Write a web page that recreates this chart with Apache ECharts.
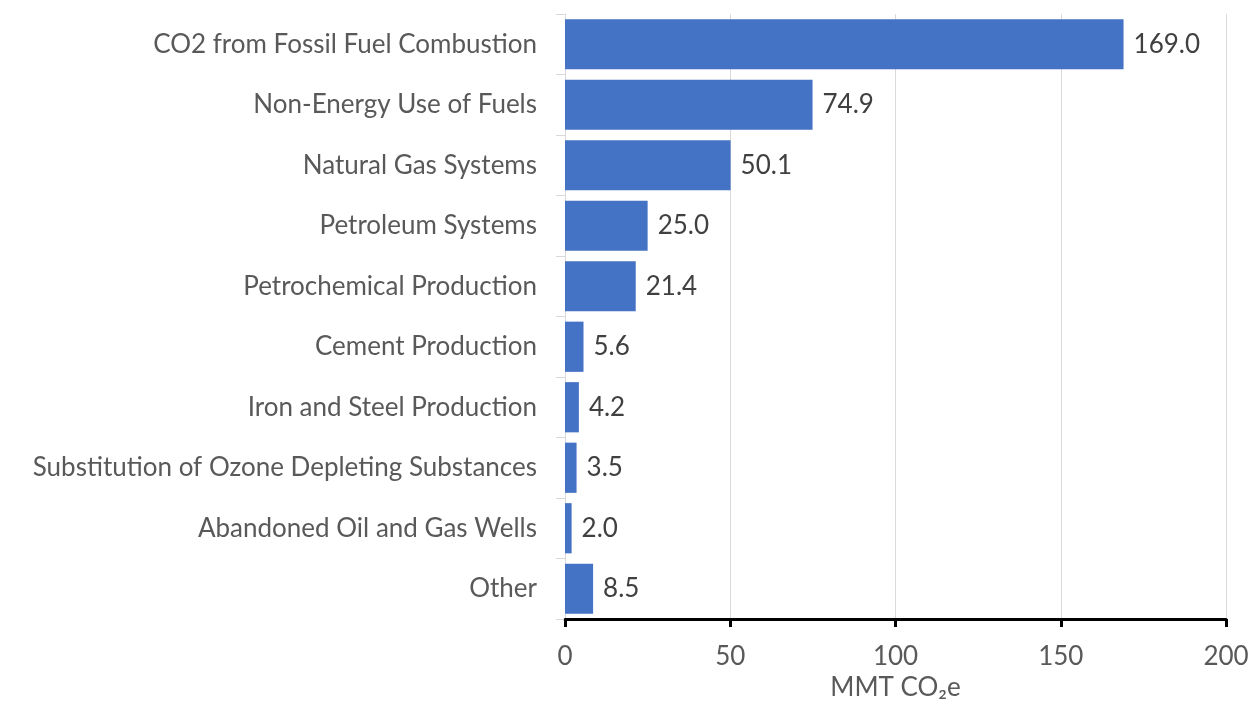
<!DOCTYPE html>
<html>
<head>
<meta charset="utf-8">
<script src="https://cdn.jsdelivr.net/npm/echarts@6/dist/echarts.min.js"></script>
<style>
  html, body { margin: 0; padding: 0; background: #fff; }
  #chart { width: 1259px; height: 706px; }
</style>
</head>
<body>
<div id="chart"></div>
<script>
// sources, top to bottom
var categories = [
  'CO2 from Fossil Fuel Combustion',
  'Non-Energy Use of Fuels',
  'Natural Gas Systems',
  'Petroleum Systems',
  'Petrochemical Production',
  'Cement Production',
  'Iron and Steel Production',
  'Substitution of Ozone Depleting Substances',
  'Abandoned Oil and Gas Wells',
  'Other'
];
var emissions = [169.0, 74.9, 50.1, 25.0, 21.4, 5.6, 4.2, 3.5, 2.0, 8.5];
var axisTitle = 'MMT CO₂e';

var font = 'Lato, Open Sans, sans-serif';
var fs = 26;
var chart = echarts.init(document.getElementById('chart'));

chart.setOption({
  animation: false,
  grid: { left: 565, right: 33, top: 14, bottom: 87, containLabel: false, outerBoundsMode: 'none' },
  xAxis: {
    type: 'value',
    min: 0,
    max: 200,
    interval: 50,
    name: axisTitle,
    nameLocation: 'middle',
    nameGap: 56,
    nameTextStyle: { fontFamily: font, fontSize: fs, color: '#595959' },
    axisLine: { show: true, lineStyle: { color: '#000', width: 3 } },
    axisTick: { show: true, length: 8, lineStyle: { color: '#000', width: 3 } },
    axisLabel: { margin: 25, fontFamily: font, fontSize: fs, color: '#595959' },
    splitLine: { show: true, lineStyle: { color: '#d9d9d9', width: 1 } }
  },
  yAxis: {
    type: 'category',
    data: categories,
    inverse: true,
    axisLine: { show: true, lineStyle: { color: '#d9d9d9', width: 1 } },
    axisTick: { show: true, length: 9, lineStyle: { color: '#d9d9d9' } },
    axisLabel: { margin: 28, fontFamily: font, fontSize: fs, color: '#595959' }
  },
  series: [{
    type: 'bar',
    data: emissions,
    barCategoryGap: '17%',
    itemStyle: { color: '#4472c4' },
    label: {
      show: true,
      position: 'right',
      distance: 10,
      fontFamily: font,
      fontSize: fs,
      color: '#404040',
      formatter: function (p) { return p.value.toFixed(1); }
    }
  }]
});
</script>
</body>
</html>
